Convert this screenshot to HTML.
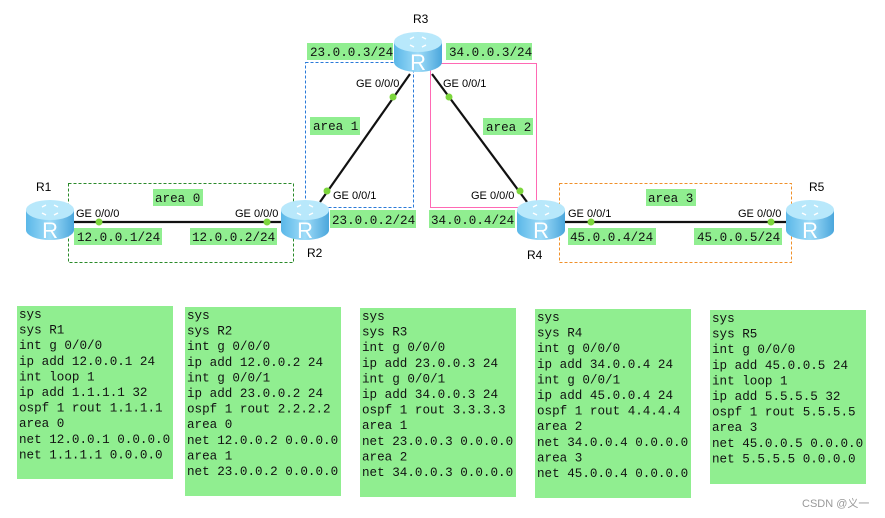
<!DOCTYPE html>
<html><head><meta charset="utf-8"><style>
body{margin:0;background:#fff;width:885px;height:518px;overflow:hidden}
svg{display:block}
.m{font-family:"Liberation Mono",monospace;font-size:12.6px;fill:#111}
.a{font-family:"Liberation Sans",Arial,sans-serif;font-size:11px;fill:#000}
.n{font-family:"Liberation Sans",Arial,sans-serif;font-size:12px;fill:#000}
</style></head><body>
<svg width="885" height="518" viewBox="0 0 885 518">
<defs>
<linearGradient id="g" x1="0" x2="1" y1="0" y2="0">
<stop offset="0" stop-color="#5ab7e8"/><stop offset="0.5" stop-color="#9fdcf8"/><stop offset="1" stop-color="#4aa6dc"/>
</linearGradient>
<g id="r">
<path d="M-24,-10 v20 a24,10 0 0 0 48,0 v-20 z" fill="url(#g)"/>
<ellipse cx="0" cy="-10" rx="24" ry="10" fill="#b8e8fb"/>
<path d="M-8,-13 l4,-2 M8,-13 l-4,-2 M-8,-7 l4,2 M8,-7 l-4,2" stroke="#fff" stroke-width="1.5"/>
<text x="0" y="18" text-anchor="middle" font-family="Liberation Sans,sans-serif" font-size="22" fill="#fff">R</text>
</g>
</defs>
<!-- areas -->
<rect x="68.5" y="183.5" width="225" height="79" fill="none" stroke="#2a8a2a" stroke-dasharray="3,2"/>
<rect x="305.5" y="62.5" width="108" height="145" fill="none" stroke="#2a7ad8" stroke-dasharray="3,2"/>
<rect x="430.5" y="63.5" width="106" height="144" fill="none" stroke="#ff69b4"/>
<rect x="559.5" y="183.5" width="232" height="79" fill="none" stroke="#f0902a" stroke-dasharray="3,2"/>
<!-- links -->
<g stroke="#111" stroke-width="2.2">
<line x1="73" y1="222" x2="282" y2="222"/>
<line x1="320" y1="202" x2="410" y2="74"/>
<line x1="432" y1="74" x2="527" y2="202"/>
<line x1="565" y1="222" x2="787" y2="222"/>
</g>
<g fill="#7cd63c">
<circle cx="99" cy="222" r="3.5"/><circle cx="267" cy="222" r="3.5"/>
<circle cx="327" cy="191" r="3.5"/><circle cx="393" cy="97" r="3.5"/>
<circle cx="449" cy="97" r="3.5"/><circle cx="520" cy="191" r="3.5"/>
<circle cx="591" cy="222" r="3.5"/><circle cx="771" cy="222" r="3.5"/>
</g>
<use href="#r" x="50" y="220"/><use href="#r" x="305" y="220"/><use href="#r" x="418" y="52"/>
<use href="#r" x="541" y="220"/><use href="#r" x="810" y="220"/>
<!-- labels -->
<g fill="#90ee90">
<rect x="307" y="43" width="86" height="17"/><rect x="446" y="43" width="86" height="17"/>
<rect x="310" y="117" width="50" height="18"/><rect x="153" y="189" width="50" height="17"/>
<rect x="330" y="210" width="86" height="18"/><rect x="74" y="228" width="88" height="17"/>
<rect x="190" y="228" width="87" height="17"/><rect x="429" y="210" width="86" height="18"/>
<rect x="483" y="118" width="50" height="17"/><rect x="646" y="189" width="50" height="17"/>
<rect x="568" y="228" width="88" height="17"/><rect x="694" y="228" width="88" height="17"/>
</g>
<g class="m">
<text x="310" y="56">23.0.0.3/24</text><text x="449" y="56">34.0.0.3/24</text>
<text x="313" y="130">area 1</text><text x="155" y="202">area 0</text>
<text x="332" y="224">23.0.0.2/24</text><text x="77" y="241">12.0.0.1/24</text>
<text x="192" y="241">12.0.0.2/24</text><text x="431" y="224">34.0.0.4/24</text>
<text x="486" y="131">area 2</text><text x="648" y="202">area 3</text>
<text x="570" y="241">45.0.0.4/24</text><text x="697" y="241">45.0.0.5/24</text>
</g>
<g class="a">
<text x="76" y="217">GE 0/0/0</text><text x="235" y="217">GE 0/0/0</text>
<text x="333" y="199">GE 0/0/1</text><text x="356" y="87">GE 0/0/0</text>
<text x="443" y="87">GE 0/0/1</text><text x="471" y="199">GE 0/0/0</text>
<text x="568" y="217">GE 0/0/1</text><text x="738" y="217">GE 0/0/0</text>
</g>
<g class="n">
<text x="36" y="191">R1</text><text x="307" y="257">R2</text><text x="413" y="23">R3</text>
<text x="527" y="259">R4</text><text x="809" y="191">R5</text>
</g>
<!-- configs -->
<g fill="#90ee90">
<rect x="17" y="306" width="156" height="173"/><rect x="185" y="307" width="156" height="189"/>
<rect x="360" y="308" width="156" height="189"/><rect x="535" y="309" width="156" height="189"/>
<rect x="710" y="310" width="156" height="174"/>
</g>
<g class="m">
<text x="19" y="318"><tspan x="19" dy="0">sys</tspan><tspan x="19" dy="15.6">sys R1</tspan><tspan x="19" dy="15.6">int g 0/0/0</tspan><tspan x="19" dy="15.6">ip add 12.0.0.1 24</tspan><tspan x="19" dy="15.6">int loop 1</tspan><tspan x="19" dy="15.6">ip add 1.1.1.1 32</tspan><tspan x="19" dy="15.6">ospf 1 rout 1.1.1.1</tspan><tspan x="19" dy="15.6">area 0</tspan><tspan x="19" dy="15.6">net 12.0.0.1 0.0.0.0</tspan><tspan x="19" dy="15.6">net 1.1.1.1 0.0.0.0</tspan></text>
<text x="187" y="319"><tspan x="187" dy="0">sys</tspan><tspan x="187" dy="15.6">sys R2</tspan><tspan x="187" dy="15.6">int g 0/0/0</tspan><tspan x="187" dy="15.6">ip add 12.0.0.2 24</tspan><tspan x="187" dy="15.6">int g 0/0/1</tspan><tspan x="187" dy="15.6">ip add 23.0.0.2 24</tspan><tspan x="187" dy="15.6">ospf 1 rout 2.2.2.2</tspan><tspan x="187" dy="15.6">area 0</tspan><tspan x="187" dy="15.6">net 12.0.0.2 0.0.0.0</tspan><tspan x="187" dy="15.6">area 1</tspan><tspan x="187" dy="15.6">net 23.0.0.2 0.0.0.0</tspan></text>
<text x="362" y="320"><tspan x="362" dy="0">sys</tspan><tspan x="362" dy="15.6">sys R3</tspan><tspan x="362" dy="15.6">int g 0/0/0</tspan><tspan x="362" dy="15.6">ip add 23.0.0.3 24</tspan><tspan x="362" dy="15.6">int g 0/0/1</tspan><tspan x="362" dy="15.6">ip add 34.0.0.3 24</tspan><tspan x="362" dy="15.6">ospf 1 rout 3.3.3.3</tspan><tspan x="362" dy="15.6">area 1</tspan><tspan x="362" dy="15.6">net 23.0.0.3 0.0.0.0</tspan><tspan x="362" dy="15.6">area 2</tspan><tspan x="362" dy="15.6">net 34.0.0.3 0.0.0.0</tspan></text>
<text x="537" y="321"><tspan x="537" dy="0">sys</tspan><tspan x="537" dy="15.6">sys R4</tspan><tspan x="537" dy="15.6">int g 0/0/0</tspan><tspan x="537" dy="15.6">ip add 34.0.0.4 24</tspan><tspan x="537" dy="15.6">int g 0/0/1</tspan><tspan x="537" dy="15.6">ip add 45.0.0.4 24</tspan><tspan x="537" dy="15.6">ospf 1 rout 4.4.4.4</tspan><tspan x="537" dy="15.6">area 2</tspan><tspan x="537" dy="15.6">net 34.0.0.4 0.0.0.0</tspan><tspan x="537" dy="15.6">area 3</tspan><tspan x="537" dy="15.6">net 45.0.0.4 0.0.0.0</tspan></text>
<text x="712" y="322"><tspan x="712" dy="0">sys</tspan><tspan x="712" dy="15.6">sys R5</tspan><tspan x="712" dy="15.6">int g 0/0/0</tspan><tspan x="712" dy="15.6">ip add 45.0.0.5 24</tspan><tspan x="712" dy="15.6">int loop 1</tspan><tspan x="712" dy="15.6">ip add 5.5.5.5 32</tspan><tspan x="712" dy="15.6">ospf 1 rout 5.5.5.5</tspan><tspan x="712" dy="15.6">area 3</tspan><tspan x="712" dy="15.6">net 45.0.0.5 0.0.0.0</tspan><tspan x="712" dy="15.6">net 5.5.5.5 0.0.0.0</tspan></text>
</g>
<text x="802" y="507" font-family="Liberation Sans,'Noto Sans CJK SC',sans-serif" font-size="11" fill="#999">CSDN @义一</text>
</svg>
</body></html>
